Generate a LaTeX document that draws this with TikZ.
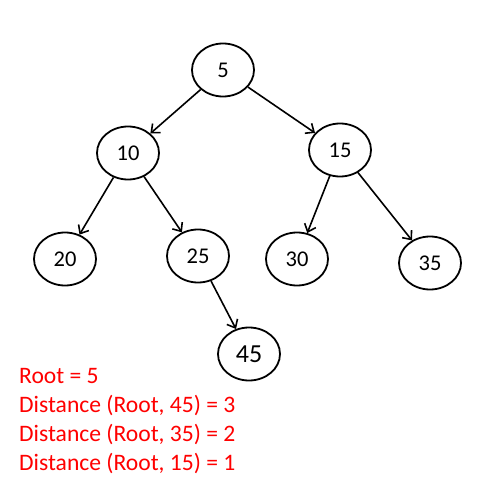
\documentclass[tikz,border=0pt]{standalone}
\usepackage{fontspec}
\setmainfont{Carlito}
\usetikzlibrary{shapes.geometric,arrows.meta}
\begin{document}
\begin{tikzpicture}[x=1pt,y=-1pt,
  tnode/.style={ellipse,draw,line width=1.8pt,minimum width=62pt,minimum height=53pt,inner sep=0pt,font=\fontsize{22.5}{26}\selectfont},
  edge/.style={line width=1.6pt,-{Straight Barb[length=7pt,width=12pt,line width=1.6pt]}},
  info/.style={anchor=base west,text=red,font=\fontsize{23.6}{28}\selectfont,inner sep=0pt}]
\useasboundingbox (0,0) rectangle (500,500);
\node[tnode] (n5) at (223,70) {5};
\node[tnode] (n10) at (128,153) {10};
\node[tnode] (n15) at (340,150) {15};
\node[tnode] (n20) at (65,259) {20};
\node[tnode] (n25) at (198,256) {25};
\node[tnode] (n30) at (297,259) {30};
\node[tnode] (n35) at (430,263) {35};
\node[tnode,font=\fontsize{26}{30}\selectfont] (n45) at (249,354) {45};
\draw[edge] (n5) -- (n10);
\draw[edge] (n5) -- (n15);
\draw[edge] (n10) -- (n20);
\draw[edge] (n10) -- (n25);
\draw[edge] (n15) -- (n30);
\draw[edge] (n15) -- (n35);
\draw[edge] (n25) -- (n45);
\node[info] (t1) at (19,383) {Root = 5};
\node[info] (t2) at (19,412) {Distance (Root, 45) = 3};
\node[info] (t3) at (19,441) {Distance (Root, 35) = 2};
\node[info] (t4) at (19,470) {Distance (Root, 15) = 1};
\end{tikzpicture}
\end{document}
